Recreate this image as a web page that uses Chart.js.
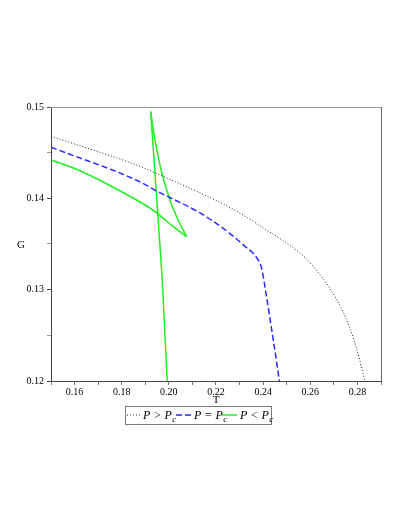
<!DOCTYPE html>
<html>
<head>
<meta charset="utf-8">
<script src="https://cdn.jsdelivr.net/npm/chart.js@4/dist/chart.umd.min.js"></script>
<style>
html,body{margin:0;padding:0;background:#fff;}
canvas{display:block;}
</style>
</head>
<body>
<canvas id="c" width="409" height="529"></canvas>
<script>
// P > Pc (black dotted)
const tAbove = [0.15, 0.1878, 0.1941, 0.2132, 0.2273, 0.2429, 0.2500, 0.2570, 0.2627, 0.2684, 0.2733, 0.2769, 0.2797, 0.2832];
const gAbove = [0.1468, 0.1435, 0.1428, 0.1406, 0.1388, 0.1363, 0.1351, 0.1337, 0.1321, 0.1301, 0.1279, 0.1257, 0.1235, 0.1200];
// P = Pc (blue dashed)
const tCrit = [0.15, 0.1878, 0.1941, 0.2132, 0.2231, 0.2316, 0.2380, 0.2394, 0.2412, 0.2443, 0.2469];
const gCrit = [0.1456, 0.1418, 0.1409, 0.1384, 0.1367, 0.1349, 0.1332, 0.1323, 0.1296, 0.1245, 0.1200];
// P < Pc (green, swallowtail, drawn in path order)
const tBelow = [0.15, 0.1616, 0.1758, 0.1878, 0.1944, 0.2019, 0.2076, 0.2040, 0.2005, 0.1970, 0.1941, 0.1923, 0.1962, 0.1972, 0.1993];
const gBelow = [0.1442, 0.1431, 0.1413, 0.1396, 0.1385, 0.1369, 0.1358, 0.1376, 0.1398, 0.1428, 0.1464, 0.1495, 0.1349, 0.1310, 0.1200];
// indices of the two cusps in the green path
const belowCusps = [6, 11];

const xMin = 0.15, xMax = 0.29, xStep = 0.01;
const yMin = 0.12, yMax = 0.15, yStep = 0.005;
const legendLabels = [['P > P', 'c'], ['P = P', 'c'], ['P < P', 'c']];
const xTitle = 'T', yTitle = 'G';

const pts = (xs, ys) => xs.map((x, i) => ({x: x, y: ys[i]}));
const isMajor = (v, n) => Math.abs(v * n - Math.round(v * n)) < 1e-6;

Chart.defaults.font.family = "'Liberation Serif', 'DejaVu Serif', serif";
Chart.defaults.color = '#000';

const styles = [
  {color: '#222', width: 1, dash: [1, 2]},
  {color: '#2a2aff', width: 1.5, dash: [6, 3]},
  {color: '#22ee22', width: 1.5, dash: []}
];

const greenPts = pts(tBelow, gBelow);
const greenBranches = [
  greenPts.slice(0, belowCusps[0] + 1),
  greenPts.slice(belowCusps[0], belowCusps[1] + 1),
  greenPts.slice(belowCusps[1])
];

const framePlugin = {
  id: 'frame',
  afterDraw(chart) {
    const ctx = chart.ctx, a = chart.chartArea;
    ctx.save();
    ctx.lineWidth = 1;
    ctx.strokeStyle = '#9a9a9a';
    ctx.beginPath();
    ctx.moveTo(a.left, Math.round(a.top) + 0.5);
    ctx.lineTo(a.right, Math.round(a.top) + 0.5);
    ctx.stroke();
    ctx.strokeStyle = '#666';
    ctx.beginPath();
    ctx.moveTo(Math.round(a.right) + 0.5, a.top);
    ctx.lineTo(Math.round(a.right) + 0.5, a.bottom);
    ctx.stroke();
    ctx.fillStyle = '#000';
    ctx.font = "11px 'Liberation Serif', serif";
    ctx.textAlign = 'center';
    ctx.textBaseline = 'middle';
    ctx.fillText(xTitle, (a.left + a.right) / 2, 400);
    ctx.fillText(yTitle, 21, 245);
    const bx = 125.5, by = 406.5, bw = 146, bh = 18;
    ctx.strokeStyle = '#777';
    ctx.strokeRect(bx, by, bw, bh);
    const ly = 415;
    const sampleX = [[127, 141], [176, 193], [222, 237]];
    const textX = [143, 194, 240];
    for (let i = 0; i < 3; i++) {
      const s = styles[i];
      ctx.strokeStyle = s.color;
      ctx.lineWidth = s.width;
      ctx.setLineDash(s.dash);
      ctx.beginPath();
      ctx.moveTo(sampleX[i][0], ly);
      ctx.lineTo(sampleX[i][1], ly);
      ctx.stroke();
      ctx.setLineDash([]);
      ctx.fillStyle = '#000';
      ctx.textAlign = 'left';
      ctx.textBaseline = 'alphabetic';
      ctx.font = "italic 12px 'Liberation Serif', serif";
      ctx.fillText(legendLabels[i][0], textX[i], 419);
      const w = ctx.measureText(legendLabels[i][0]).width;
      ctx.font = "italic 9px 'Liberation Serif', serif";
      ctx.fillText(legendLabels[i][1], textX[i] + w + 0.5, 422);
    }
    ctx.restore();
  }
};

const greenSet = (data) => ({label: 'P < Pc', data: data, showLine: true, borderColor: styles[2].color,
  borderWidth: styles[2].width, pointRadius: 0, tension: 0.3});

new Chart(document.getElementById('c'), {
  type: 'scatter',
  data: {
    datasets: [
      {label: 'P > Pc', data: pts(tAbove, gAbove), showLine: true, borderColor: styles[0].color,
       borderWidth: styles[0].width, borderDash: styles[0].dash, pointRadius: 0, cubicInterpolationMode: 'monotone'},
      {label: 'P = Pc', data: pts(tCrit, gCrit), showLine: true, borderColor: styles[1].color,
       borderWidth: styles[1].width, borderDash: styles[1].dash, pointRadius: 0, cubicInterpolationMode: 'monotone'},
      greenSet(greenBranches[0]),
      greenSet(greenBranches[1]),
      greenSet(greenBranches[2])
    ]
  },
  options: {
    responsive: false,
    animation: false,
    devicePixelRatio: 1,
    layout: {padding: {left: 0, top: 107, right: 28, bottom: 128}},
    plugins: {legend: {display: false}, tooltip: {enabled: false}},
    scales: {
      x: {
        type: 'linear', min: xMin, max: xMax,
        afterFit: s => { s.height = 20; },
        grid: {drawOnChartArea: false, drawTicks: true, tickLength: 4, color: '#777'},
        border: {display: true, color: '#444', width: 1},
        ticks: {
          stepSize: xStep, autoSkip: false, maxRotation: 0, padding: 1,
          font: {size: 10},
          callback: v => (isMajor(v, 50) ? v.toFixed(2) : '')
        }
      },
      y: {
        type: 'linear', min: yMin, max: yMax,
        afterFit: s => { s.width = 51; },
        grid: {drawOnChartArea: false, drawTicks: true, tickLength: 4,
               color: c => (c.tick && isMajor(c.tick.value, 100) ? '#444' : '#999')},
        border: {display: true, color: '#444', width: 1},
        ticks: {
          stepSize: yStep, autoSkip: false, padding: 3,
          font: {size: 10},
          callback: v => (isMajor(v, 100) ? v.toFixed(2) : '')
        }
      }
    }
  },
  plugins: [framePlugin]
});
</script>
</body>
</html>
